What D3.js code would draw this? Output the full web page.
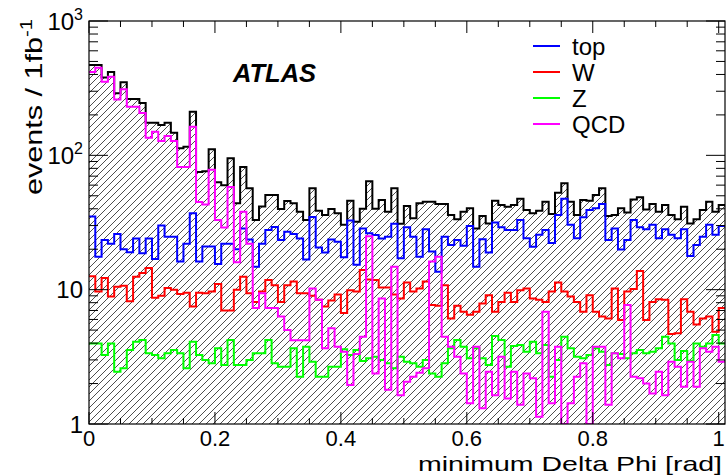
<!DOCTYPE html>
<html><head><meta charset="utf-8">
<script src="https://cdn.jsdelivr.net/npm/d3@7"></script>
<style>
body{margin:0;background:#fff}
svg{display:block}
text{font-family:"Liberation Sans",Arial,Helvetica,sans-serif;fill:#000}
</style>
</head><body>
<svg id="chart" width="726" height="476"></svg>
<script>
// ---- data (events / 1fb^-1 per bin of 0.01 rad, 101 bins from 0) ----
const binWidth = 0.01;
const total = [470,470,380,417,290,350,263,263,245,175,
  175,168,175,147,113,116,211,75,76,111,
  63,60,95,44,82,56.8,33,41.6,50.7,50.7,
  39.8,45.7,44,38,33,56.8,38.7,36,39.8,37,
  30.4,46,32,40,64,40,46.5,38,56.8,31,
  42,34,43.9,45.2,45.2,43.4,43.4,36,33.4,38,
  40.3,28.5,35.3,31.1,45.9,42.7,41.5,42.7,47.6,39.2,
  37,38.7,45.2,36.6,52.6,62,45.2,36,46.5,45.9,
  50.7,56.8,35.3,36,40.3,37.5,47,48.7,39.6,43.4,
  38,42.7,36,33.4,41.5,31.1,33.4,39.2,45.2,38,
  42.7];
const top_ = [35,17.6,23.4,22,26,20,19,24,18.7,24,
  16.9,30,24.8,24.8,16.2,22,37,16.2,21,21,
  15.5,22,22,20,28.5,23.6,14.8,22,27.8,29.3,
  23.4,27,26,24,16.8,34.8,20.6,18.9,23.6,22.7,
  17.4,32.7,15.3,28.5,26.3,25.5,24,24.8,31,17.1,
  29.1,24.8,17.6,28.2,19.2,13.6,24.8,21.5,23.4,21.2,
  29.8,14.8,23.7,18.9,31.6,29.1,27.8,27.8,33,24.1,
  20.9,25.6,27.8,22.3,36,47.6,30.4,24.1,34.6,39.2,
  40.3,43.4,23.4,28.5,19.9,23.4,33,29.1,28.2,30.4,
  24.1,28.2,25.6,24.1,28.2,17.8,21.5,24.8,30.4,25.6,
  29.8];
const wjets = [12.6,9.7,12.2,8.9,10.5,10.7,8.2,12.5,13.3,14.5,
  8.7,9,10.3,10,9.3,9.5,7.5,9.5,9.4,9.7,
  11,7,7,10,12.5,9.4,8.1,9.7,11.8,10.8,
  8.1,10.8,11.5,9.4,9.4,9.0,8.4,7.5,8.3,9.2,
  6.7,9.9,9.7,14,11.9,11.8,10.4,10.4,9.2,8.6,
  11.3,9.7,10.2,11.5,7.7,7.6,10.8,6.1,7.6,6.85,
  6.5,6.85,7.9,9.1,6.85,8.1,9.5,8.1,9.9,10.2,
  8.6,8.4,8.1,9.7,11.3,9.7,8.9,8.1,6.85,9.1,
  6.85,6.3,6.1,10.2,5.95,9.7,10.1,13.8,5.95,8.1,
  8.5,8.4,4.67,4.73,8.5,6.85,5.5,6.1,6.3,4.87,
  7.3];
const zjets = [3.98,3.98,3.26,3.98,2.45,2.6,3.55,4.1,4.22,3.36,
  3.26,3.08,3.36,3.55,3.36,2.6,4.1,3.26,3.0,2.83,
  3.66,2.75,4.22,2.75,2.75,2.99,3.36,3.36,4.22,2.83,
  2.67,2.67,3.66,2.25,3.76,2.91,2.25,2.25,2.67,2.67,
  3.6,3.26,3.55,2.94,3.08,3.17,2.99,2.83,2.6,3.17,
  2.91,2.83,2.67,2.99,2.38,2.25,2.83,3.66,4.22,3.76,
  3.08,3.66,3.08,2.75,4.52,4.22,2.67,3.8,3.87,3.45,
  4.1,3.36,3.87,2.25,2.99,4.47,3.66,3.17,3.08,3.26,
  3.66,3.45,2.75,3.36,3.32,3.08,3.36,3.55,3.36,3.45,
  3.66,4.47,3.98,2.99,3.5,2.96,3.98,3.76,3.98,4.6,
  3.98];
const qcd = [417,448,353,385,260,310,230,230,207,135,
  150,128,139,128,82,82,163,45,43,78,
  33,29,58,16,38,22,7.3,9.4,7.3,7.3,
  6.3,5.0,4.2,4.2,4.2,10.2,8.4,3.66,5.16,3.76,
  3.45,1.95,3.32,4.47,25,2.38,8.6,1.8,14.8,1.64,
  2.06,2.25,2.41,2.6,16.2,17.6,4.47,3.76,3.17,2.38,
  1.43,3.76,1.31,2.45,1.64,3.17,1.55,2.45,1.39,2.38,
  2.19,1.13,6.85,1.43,3.76,0.8,1.43,2.25,2.83,0.8,
  3.76,3.76,1.39,3.36,3.08,7.7,2.25,2.19,2.0,1.69,
  2.45,1.64,2.91,2.67,1.89,2.91,1.89,3.66,3.45,3.76,
  2.91];

const seriesNames = ["top","W","Z","QCD"];
const seriesColors = ["#0000ff","#ff0000","#00ff00","#ff00ff"];
const seriesData = [top_, wjets, zjets, qcd];

const xTickValues = [0,0.2,0.4,0.6,0.8,1];
const xTickLabels = ["0","0.2","0.4","0.6","0.8","1"];
const yTickValues = [1,10,100,1000];
const yTickBase = ["1","10","10","10"];
const yTickExp = ["","","2","3"];

// ---- layout ----
const L = 89, R = 725, T = 21, B = 424;
const svg = d3.select("#chart");
const nb = total.length;
const x = d3.scaleLinear().domain([0, nb*binWidth]).range([L, R]);
const y = d3.scaleLog().domain([1, 1000]).range([B, T]).clamp(true);

const defs = svg.append("defs");
defs.append("pattern").attr("id","hatch").attr("patternUnits","userSpaceOnUse")
  .attr("width",7).attr("height",7)
  .append("path").attr("d","M-1,1 L1,-1 M0,7 L7,0 M6,8 L8,6")
  .attr("stroke","#3a3a3a").attr("stroke-width",0.9);
defs.append("clipPath").attr("id","plotclip").append("rect")
  .attr("x",L).attr("y",T).attr("width",R-L).attr("height",B-T);

function pts(vals){
  const p = vals.map((v,i)=>[i*binWidth, v]);
  p.push([vals.length*binWidth, vals[vals.length-1]]);
  return p;
}
const g = svg.append("g").attr("clip-path","url(#plotclip)");

const area = d3.area().curve(d3.curveStepAfter)
  .x(d=>x(d[0])).y0(B).y1(d=>y(Math.max(d[1],0.5)));
g.append("path").datum(pts(total)).attr("d",area).attr("fill","url(#hatch)");

const line = d3.line().curve(d3.curveStepAfter)
  .x(d=>x(d[0])).y(d=>y(Math.max(d[1],0.5)));
g.append("path").datum(pts(total)).attr("d",line)
  .attr("fill","none").attr("stroke","#000").attr("stroke-width",2);

seriesData.forEach((s,k)=>{
  g.append("path").datum(pts(s)).attr("d",line)
    .attr("fill","none").attr("stroke",seriesColors[k]).attr("stroke-width",2);
});

// ---- frame & ticks ----
const ax = svg.append("g").attr("stroke","#000").attr("stroke-width",1);
const xMinor = d3.range(0, 1.0001, 0.05).filter(v=>!xTickValues.some(t=>Math.abs(t-v)<1e-6));
xTickValues.forEach(v=>{
  ax.append("line").attr("x1",x(v)).attr("x2",x(v)).attr("y1",B).attr("y2",B-12);
  ax.append("line").attr("x1",x(v)).attr("x2",x(v)).attr("y1",T).attr("y2",T+12);
});
xMinor.forEach(v=>{
  ax.append("line").attr("x1",x(v)).attr("x2",x(v)).attr("y1",B).attr("y2",B-6);
  ax.append("line").attr("x1",x(v)).attr("x2",x(v)).attr("y1",T).attr("y2",T+6);
});
const yMinor = [];
[1,10,100].forEach(d=>{for(let m=2;m<=9;m++) yMinor.push(d*m);});
yTickValues.forEach(v=>{
  ax.append("line").attr("x1",L).attr("x2",L+19).attr("y1",y(v)).attr("y2",y(v));
  ax.append("line").attr("x1",R).attr("x2",R-19).attr("y1",y(v)).attr("y2",y(v));
});
yMinor.forEach(v=>{
  ax.append("line").attr("x1",L).attr("x2",L+9).attr("y1",y(v)).attr("y2",y(v));
  ax.append("line").attr("x1",R).attr("x2",R-9).attr("y1",y(v)).attr("y2",y(v));
});
svg.append("rect").attr("x",L).attr("y",T).attr("width",R-L).attr("height",B-T)
  .attr("fill","none").attr("stroke","#000").attr("stroke-width",1.2);

// ---- tick labels ----
xTickValues.forEach((v,i)=>{
  svg.append("text").attr("x",x(v)).attr("y",446).attr("text-anchor","middle")
    .attr("font-size",22).text(xTickLabels[i]);
});
yTickValues.forEach((v,i)=>{
  const t = svg.append("text").attr("x",83).attr("y",y(v)+8.5).attr("text-anchor","end")
    .attr("font-size",24);
  t.append("tspan").text(yTickBase[i]);
  if (yTickExp[i]) t.append("tspan").attr("font-size",16).attr("dy",-10).text(yTickExp[i]);
});

// ---- titles ----
svg.append("text").attr("x",722).attr("y",471).attr("text-anchor","end")
  .attr("font-size",21).attr("textLength",304).attr("lengthAdjust","spacingAndGlyphs")
  .text("minimum Delta Phi [rad]");
const yt = svg.append("text").attr("transform","translate(42,19) rotate(-90)")
  .attr("text-anchor","end").attr("font-size",24)
  .attr("textLength",176).attr("lengthAdjust","spacingAndGlyphs");
yt.append("tspan").text("events / 1fb");
yt.append("tspan").attr("font-size",16).attr("dy",-10).text("-1");

svg.append("text").attr("x",233).attr("y",82).attr("font-size",25.5)
  .attr("font-weight","bold").attr("font-style","italic").text("ATLAS");

// ---- legend ----
const leg = svg.append("g");
seriesNames.forEach((n,k)=>{
  const yy = 46 + k*26;
  leg.append("line").attr("x1",533).attr("x2",560).attr("y1",yy).attr("y2",yy)
    .attr("stroke",seriesColors[k]).attr("stroke-width",2);
  leg.append("text").attr("x",572).attr("y",yy+8.5).attr("font-size",24).text(n);
});
</script>
</body></html>
